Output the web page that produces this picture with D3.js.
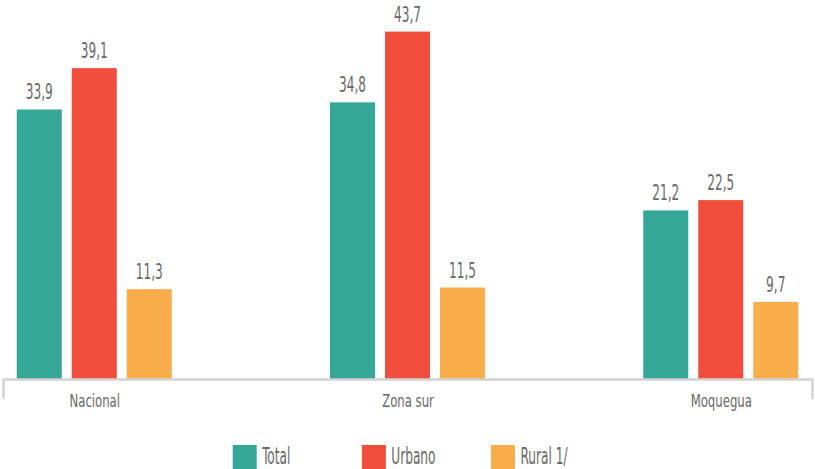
<!DOCTYPE html>
<html>
<head>
<meta charset="utf-8">
<script src="https://cdn.jsdelivr.net/npm/d3@7"></script>
<style>
  html, body { margin: 0; padding: 0; background: #fff; }
  svg text { font-family: "DejaVu Sans Condensed", "Liberation Sans Narrow", sans-serif; fill: #686868; }
</style>
</head>
<body>
<svg id="chart" width="815" height="469"></svg>
<script>
const categories = ["Nacional", "Zona sur", "Moquegua"];
const series = ["Total", "Urbano", "Rural 1/"];
const total = [33.9, 34.8, 21.2];
const urbano = [39.1, 43.7, 22.5];
const rural = [11.3, 11.5, 9.7];
const colors = ["#35a796", "#f04e3c", "#f9ac4a"];

const width = 815;
const height = 469;
const baseline = 379;

// rows built from the arrays
const values = [total, urbano, rural];
const rows = categories.map((c, i) => ({
  name: c,
  vals: series.map((s, j) => ({ key: s, value: values[j][i] }))
}));

const svg = d3.select("#chart");

const x0 = d3.scalePoint()
  .domain(categories)
  .range([3, 812])
  .padding(0.2913);

const x1 = d3.scaleBand()
  .domain(series)
  .range([-77.5, 77.5])
  .paddingInner(10 / 55);

const y = d3.scaleLinear()
  .domain([0, 48])
  .range([baseline, baseline - 48 * 7.95]);

const color = d3.scaleOrdinal().domain(series).range(colors);

// bars
const groups = svg.append("g")
  .selectAll("g")
  .data(rows)
  .join("g")
  .attr("transform", d => `translate(${x0(d.name)},0)`);

groups.selectAll("rect")
  .data(d => d.vals)
  .join("rect")
  .attr("x", d => x1(d.key))
  .attr("width", x1.bandwidth())
  .attr("y", d => y(d.value))
  .attr("height", d => baseline - y(d.value))
  .attr("fill", d => color(d.key));

// value labels, stretched to look like a tall condensed face
groups.selectAll("text")
  .data(d => d.vals)
  .join("text")
  .attr("transform", d => `translate(${x1(d.key) + x1.bandwidth() / 2},${y(d.value) - 10}) scale(1,1.55)`)
  .attr("text-anchor", "middle")
  .attr("font-size", 13.5)
  .text(d => d3.format(".1f")(d.value).replace(".", ","));

// x axis
const xAxis = svg.append("g")
  .attr("transform", `translate(0,${baseline})`)
  .call(d3.axisBottom(x0).tickSizeInner(0).tickSizeOuter(20));

xAxis.select(".domain")
  .attr("stroke", "#d2d2d2")
  .attr("stroke-width", 2.5);

xAxis.selectAll(".tick text")
  .attr("dy", null)
  .attr("y", 28 / 1.4)
  .attr("transform", "scale(1,1.4)")
  .attr("font-size", 13)
  .attr("font-family", null)
  .style("fill", "#686868");

// legend
const lx = d3.scalePoint()
  .domain(series)
  .range([232.7, 491]);

const legend = svg.append("g")
  .selectAll("g")
  .data(series)
  .join("g")
  .attr("transform", d => `translate(${lx(d)},445)`);

legend.append("rect")
  .attr("width", 24)
  .attr("height", 24)
  .attr("fill", d => color(d));

legend.append("text")
  .attr("transform", "translate(29.5,18.5) scale(1,1.65)")
  .attr("font-size", 13.5)
  .text(d => d);
</script>
</body>
</html>
